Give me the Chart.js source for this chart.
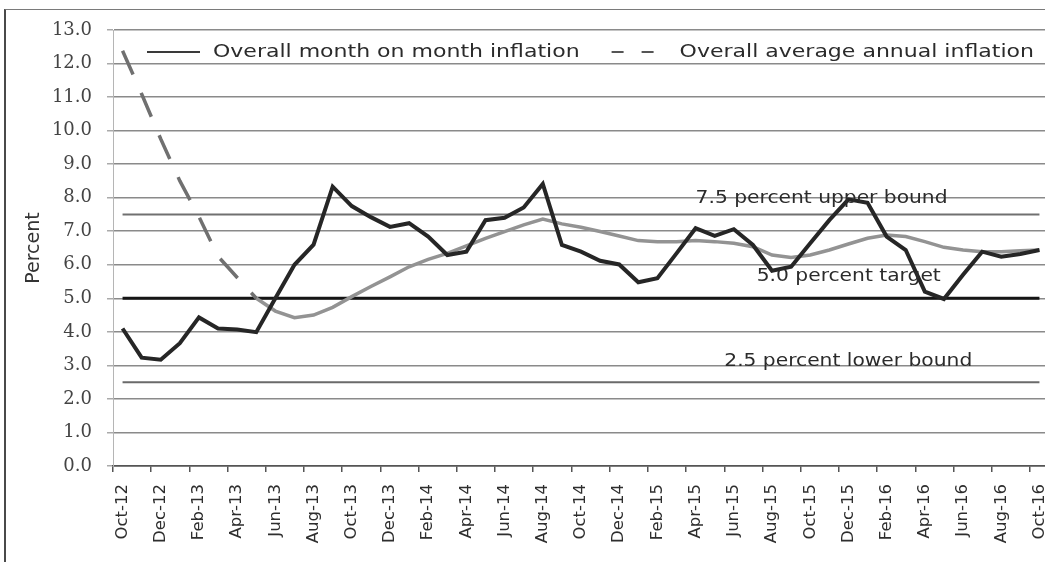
<!DOCTYPE html>
<html><head><meta charset="utf-8">
<script src="https://cdn.jsdelivr.net/npm/chart.js@4/dist/chart.umd.min.js"></script>
<style>
html,body{margin:0;padding:0;background:#fff;overflow:hidden;width:1045px;height:562px;}
#frame{position:absolute;left:4px;top:9px;width:1100px;height:600px;border-left:2px solid #4a4a4a;border-top:1.5px solid #7a7a7a;}
#c{position:absolute;left:0;top:0;}
</style></head><body>
<div id="frame"></div>
<canvas id="c" width="1049" height="562"></canvas>
<script>
const categories = ['Oct-12','Nov-12','Dec-12','Jan-13','Feb-13','Mar-13','Apr-13','May-13','Jun-13','Jul-13','Aug-13','Sep-13',
  'Oct-13','Nov-13','Dec-13','Jan-14','Feb-14','Mar-14','Apr-14','May-14','Jun-14','Jul-14','Aug-14','Sep-14',
  'Oct-14','Nov-14','Dec-14','Jan-15','Feb-15','Mar-15','Apr-15','May-15','Jun-15','Jul-15','Aug-15','Sep-15',
  'Oct-15','Nov-15','Dec-15','Jan-16','Feb-16','Mar-16','Apr-16','May-16','Jun-16','Jul-16','Aug-16','Sep-16','Oct-16'];
const monthOnMonth = [4.1, 3.23, 3.17, 3.66, 4.43, 4.1, 4.07, 3.99, 5.0, 6.0,
  6.6, 8.33, 7.75, 7.42, 7.13, 7.24, 6.84, 6.29, 6.39, 7.33,
  7.4, 7.71, 8.41, 6.59, 6.39, 6.12, 6.01, 5.48, 5.6, 6.34,
  7.09, 6.86, 7.06, 6.59, 5.82, 5.94, 6.64, 7.33, 7.95, 7.85,
  6.84, 6.44, 5.2, 4.98, 5.7, 6.39, 6.24, 6.32, 6.44];
const averageAnnual = [12.38, 11.09, 9.75, 8.5, 7.43, 6.25, 5.62, 5.0, 4.62, 4.42,
  4.5, 4.73, 5.05, 5.35, 5.64, 5.94, 6.16, 6.34, 6.56, 6.79,
  6.99, 7.19, 7.36, 7.22, 7.12, 6.99, 6.86, 6.72, 6.69, 6.69,
  6.72, 6.69, 6.64, 6.54, 6.29, 6.22, 6.29, 6.44, 6.62, 6.79,
  6.89, 6.84, 6.69, 6.52, 6.44, 6.39, 6.39, 6.42, 6.44];
const seriesNames = ['Overall month on month inflation', 'Overall average annual inflation'];
const boundValues = [7.5, 5.0, 2.5];
const boundNotes = ['7.5 percent upper bound', '5.0 percent target', '2.5 percent lower bound'];
const yTickValues = [0,1,2,3,4,5,6,7,8,9,10,11,12,13];

const dashedUntil = 7;
const notePlacement = [{i: 30, v: 7.97}, {i: 33.2, v: 5.66}, {i: 31.5, v: 3.12}];
const boundStyles = [
  {color: '#707070', width: 2},
  {color: '#151515', width: 3},
  {color: '#6a6a6a', width: 2}
];
const STRETCH = 1.19;

function stretchedText(ctx, text, x, y, font, color) {
  ctx.save();
  ctx.font = font;
  ctx.fillStyle = color;
  ctx.textBaseline = 'middle';
  ctx.textAlign = 'left';
  ctx.translate(x, y);
  ctx.scale(STRETCH, 1);
  ctx.fillText(text, 0, 0);
  const w = ctx.measureText(text).width * STRETCH;
  ctx.restore();
  return w;
}

const decorPlugin = {
  id: 'decor',
  afterDatasetsDraw(chart) {
    const ctx = chart.ctx;
    const xs = chart.scales.x, ys = chart.scales.y;
    const area = chart.chartArea;
    boundNotes.forEach((t, k) => {
      const p = notePlacement[k];
      stretchedText(ctx, t, xs.getPixelForValue(p.i), ys.getPixelForValue(p.v), '17px "DejaVu Sans"', '#2b2b2b');
    });
    const ly = area.top + 22;
    const font = '18.5px "DejaVu Sans"';
    let x = area.left + 34;
    ctx.save();
    ctx.strokeStyle = '#3a3a3a';
    ctx.lineWidth = 2;
    ctx.beginPath(); ctx.moveTo(x, ly); ctx.lineTo(x + 53, ly); ctx.stroke();
    ctx.restore();
    x += 66;
    const w1 = stretchedText(ctx, seriesNames[0], x, ly, font, '#2b2b2b');
    x += w1 + 32;
    ctx.save();
    ctx.strokeStyle = '#555';
    ctx.lineWidth = 2;
    ctx.setLineDash([12, 18]);
    ctx.beginPath(); ctx.moveTo(x, ly); ctx.lineTo(x + 45, ly); ctx.stroke();
    ctx.restore();
    x += 68;
    stretchedText(ctx, seriesNames[1], x, ly, font, '#2b2b2b');
  }
};

const boundDatasets = boundValues.map((v, k) => ({
  label: boundNotes[k],
  data: [{x: categories[0], y: v}, {x: categories[categories.length - 1], y: v}],
  borderColor: boundStyles[k].color,
  borderWidth: boundStyles[k].width,
  pointRadius: 0,
  fill: false,
  order: 3
}));

new Chart(document.getElementById('c'), {
  type: 'line',
  data: {
    labels: categories,
    datasets: [
      {
        label: seriesNames[0],
        data: monthOnMonth,
        borderColor: '#262626',
        borderWidth: 4,
        pointRadius: 0,
        tension: 0,
        fill: false,
        order: 1
      },
      {
        label: seriesNames[1],
        data: averageAnnual,
        borderColor: '#939393',
        borderWidth: 3.5,
        pointRadius: 0,
        tension: 0,
        fill: false,
        order: 2,
        segment: {
          borderDash: c => c.p1DataIndex <= dashedUntil ? [26, 20] : [],
          borderColor: c => c.p1DataIndex <= dashedUntil ? '#707070' : '#939393'
        }
      },
      ...boundDatasets
    ]
  },
  options: {
    responsive: false,
    devicePixelRatio: 1,
    animation: false,
    layout: {padding: {left: 18, top: 30, right: 0, bottom: 0}},
    plugins: {legend: {display: false}, tooltip: {enabled: false}},
    scales: {
      x: {
        type: 'category',
        offset: true,
        afterFit: s => { s.height = 96; s.paddingLeft = 0; s.paddingRight = 0; },
        grid: {
          drawOnChartArea: false,
          offset: true,
          tickLength: 6,
          tickColor: c => (c.index % 2 === 0 ? '#555' : 'rgba(0,0,0,0)'),
          lineWidth: 1.5
        },
        border: {display: true, color: '#555', width: 1.5},
        ticks: {
          autoSkip: false,
          maxRotation: 90,
          minRotation: 90,
          padding: 12,
          color: '#2e2e2e',
          font: {family: '"DejaVu Sans"', size: 16.5},
          callback: (v, i) => (i % 2 === 0 ? categories[i] : '')
        }
      },
      y: {
        min: 0,
        max: 13,
        afterFit: s => { s.width = 95; s.paddingTop = 0; s.paddingBottom = 0; },
        afterBuildTicks: s => { s.ticks = yTickValues.map(v => ({value: v})); },
        grid: {
          color: c => (c.tick && c.tick.value === 0 ? '#555' : '#8a8a8a'),
          lineWidth: 1.5,
          tickLength: 6,
          tickColor: '#aaa'
        },
        border: {display: true, color: '#b5b5b5', width: 1},
        ticks: {
          padding: 15,
          color: '#444',
          font: {family: '"DejaVu Serif"', size: 18},
          callback: v => Number(v).toFixed(1)
        },
        title: {
          display: true,
          text: 'Percent',
          color: '#333',
          font: {family: '"DejaVu Sans"', size: 19},
          padding: {top: 5, bottom: 0}
        }
      }
    }
  },
  plugins: [decorPlugin]
});
</script>
</body></html>
